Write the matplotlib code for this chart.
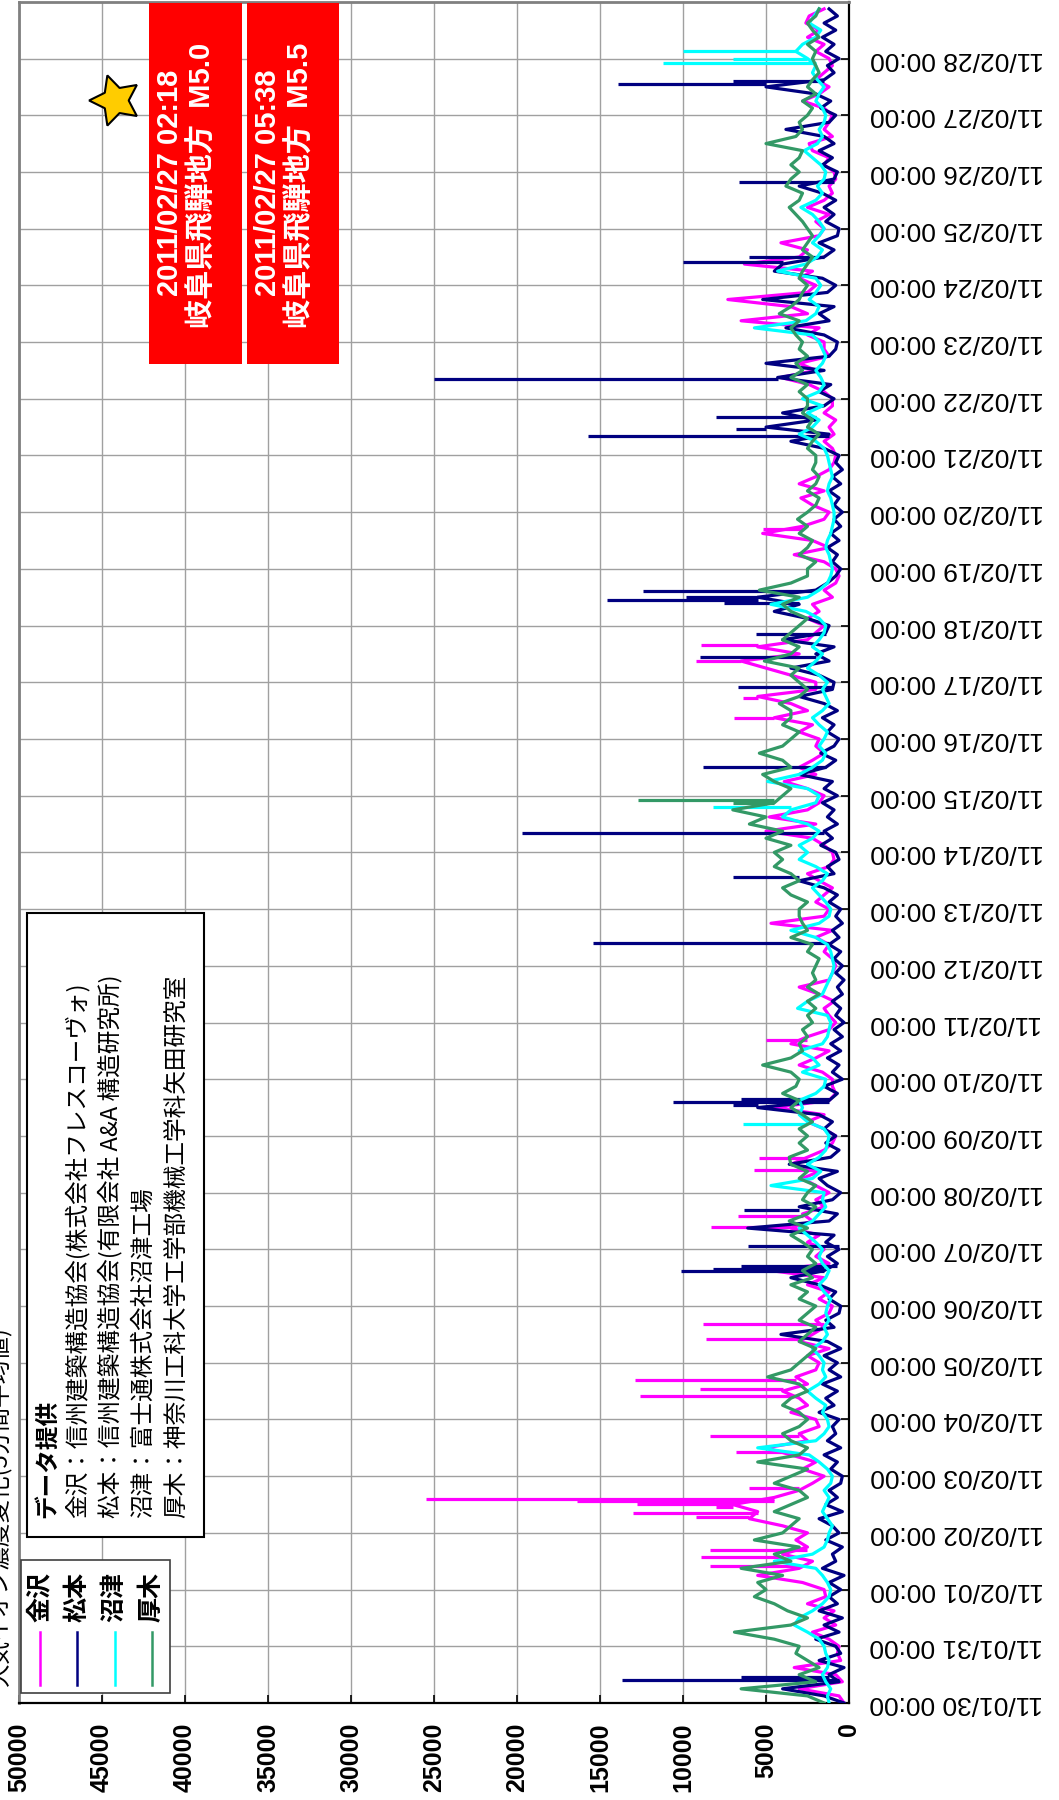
import pandas as pd
import matplotlib
matplotlib.use('Agg')
import matplotlib.pyplot as plt
import matplotlib.dates as mdates
from matplotlib.patches import Rectangle
from matplotlib.lines import Line2D
from matplotlib.ticker import MultipleLocator

plt.rcParams['font.family'] = ['Noto Sans CJK JP', 'DejaVu Sans']

W, H, DPI = 1059, 1800, 100

# 5-minute averages, one reading every 3 hours,
# one row per day from 11/01/30 to 11/02/28 (00,03,06,09,12,15,18,21h)
kanazawa = [
    300, 600, 3000, 400, 800, 3300, 500, 700,
    600, 1200, 2200, 800, 1500, 900, 2500, 1400,
    1500, 2800, 5500, 3000, 2200, 4000, 2500, 3200,
    2500, 4000, 6000, 5500, 7000, 4500, 3000, 2200,
    1500, 2800, 2000, 3500, 5000, 2500, 3000, 1800,
    2000, 3500, 2500, 3000, 4000, 2500, 3200, 2000,
    1800, 2500, 1200, 3000, 2200, 1500, 2000, 1200,
    1000, 1800, 1200, 2500, 1500, 4700, 1200, 2000,
    1500, 2500, 1800, 3500, 2200, 2800, 1500, 2000,
    1200, 2000, 2800, 1800, 3500, 2500, 1500, 1000,
    800, 1500, 2500, 1500, 4500, 1200, 800, 1000,
    1000, 1600, 3000, 2000, 1200, 3500, 2500, 1200,
    800, 1200, 1500, 900, 1800, 3000, 1200, 1000,
    800, 1000, 1500, 1200, 2000, 1000, 4700, 1500,
    1200, 2000, 1500, 1000, 1800, 2500, 1200, 900,
    1000, 1500, 2200, 5000, 2000, 4800, 2500, 1800,
    1500, 2500, 3900, 2000, 3000, 2200, 1500, 2000,
    1800, 3000, 2200, 4500, 2500, 3500, 5500, 2000,
    2000, 3500, 5000, 6500, 3000, 5500, 2500, 2000,
    1500, 2500, 1800, 2200, 1000, 1500, 800, 600,
    800, 1500, 3300, 1200, 2200, 5200, 2800, 1500,
    1200, 2200, 2900, 1500, 3000, 2000, 1200, 900,
    800, 1000, 1500, 900, 1200, 800, 1500, 1000,
    1000, 1500, 2400, 4100, 2000, 3000, 1200, 1500,
    1500, 2500, 1800, 6500, 2500, 3500, 7300, 2500,
    2000, 3000, 2200, 6300, 3000, 2500, 4100, 1800,
    1500, 2000, 1200, 2500, 1500, 1000, 1200, 800,
    900, 1500, 1200, 2200, 2400, 1000, 1500, 1200,
    1000, 1500, 2800, 1800, 1200, 2000, 1500, 1000,
    1200, 2000, 1500, 2500, 1800, 2600, 2400, 1500,
]
matsumoto = [
    300, 1500, 4000, 600, 1200, 300, 1800, 500,
    800, 2000, 600, 1500, 400, 1800, 700, 1200,
    500, 1200, 300, 1600, 800, 1000, 400, 1400,
    600, 1000, 1800, 400, 1400, 700, 1200, 500,
    400, 1100, 700, 1500, 500, 1300, 800, 1000,
    600, 1800, 900, 1400, 700, 1600, 500, 1200,
    700, 1500, 500, 1300, 4100, 900, 1400, 600,
    500, 1200, 800, 1800, 3500, 1500, 700, 1300,
    600, 1400, 900, 6100, 1200, 700, 3000, 1000,
    500, 1300, 1800, 700, 3600, 1100, 600, 1400,
    800, 1500, 1000, 1800, 5500, 1200, 700, 1500,
    400, 1000, 600, 1300, 500, 1100, 400, 900,
    300, 800, 500, 1000, 400, 700, 300, 800,
    400, 900, 500, 1200, 600, 1000, 400, 800,
    500, 1200, 700, 1500, 3000, 900, 1300, 600,
    800, 1700, 1000, 1500, 700, 1300, 900, 1600,
    700, 1500, 1000, 3000, 1400, 800, 1700, 900,
    600, 1300, 900, 1600, 700, 1500, 3000, 1000,
    900, 1800, 3500, 1200, 2000, 900, 4000, 1400,
    1200, 2500, 4500, 3000, 5500, 2000, 1300, 800,
    500, 1000, 700, 1300, 600, 1100, 500, 900,
    400, 900, 600, 1200, 500, 1000, 400, 800,
    600, 1500, 3500, 1200, 5000, 2000, 4000, 1500,
    900, 1800, 1100, 4300, 1500, 5000, 1200, 800,
    700, 1500, 3800, 1200, 1800, 900, 5200, 1300,
    800, 1600, 4500, 4000, 1500, 900, 1800, 700,
    600, 1400, 900, 1500, 800, 1600, 3000, 900,
    700, 1600, 1000, 1800, 900, 1500, 3800, 1200,
    800, 1700, 1100, 2000, 5000, 1500, 900, 1300,
    600, 1400, 900, 1600, 800, 1500, 700, 1200,
]
numazu = [
    1200, 1300, 1100, 1400, 1600, 1300, 1200, 1400,
    1500, 1800, 2500, 3300, 3000, 2200, 1600, 1200,
    1100, 1300, 1600, 2000, 4500, 2200, 1500, 1300,
    1200, 1000, 1300, 1600, 1400, 1200, 1500, 1100,
    1000, 1300, 1800, 2400, 5500, 2000, 1500, 1200,
    1300, 1600, 1400, 2000, 2500, 1800, 1400, 1600,
    1500, 1800, 2200, 1600, 1300, 1500, 1200, 1400,
    1300, 1100, 1500, 1800, 1400, 1200, 1600, 1800,
    1600, 2000, 2500, 3000, 2200, 1800, 1400, 1600,
    1500, 4700, 2200, 1700, 2500, 1800, 1400, 1300,
    1200, 1500, 2500, 3000, 2800, 3000, 2000, 1500,
    1400, 2800, 1800, 2200, 3000, 1600, 1300, 1200,
    1100, 1300, 3100, 2500, 1600, 1400, 1200, 1000,
    900, 1000, 1100, 1300, 2000, 3500, 1800, 1200,
    1100, 1400, 1800, 2200, 1600, 1300, 2000, 3000,
    2500, 3000, 2200, 1800, 2500, 4000, 3500, 2000,
    1800, 2500, 4900, 3000, 2200, 1600, 1400, 1800,
    1500, 1300, 1800, 2200, 1600, 1200, 1400, 1600,
    1300, 1800, 2500, 2000, 1600, 2200, 1800, 1500,
    1400, 1800, 2600, 4700, 2500, 1800, 1300, 1100,
    1000, 1100, 1200, 1400, 1300, 1100, 1000, 900,
    900, 1000, 1100, 1300, 1200, 1000, 1100, 1200,
    1300, 1500, 2000, 3000, 2200, 1800, 2500, 1600,
    2800, 1800, 1500, 1700, 2000, 1600, 1400, 1600,
    1800, 2200, 5700, 2600, 2000, 1800, 2400, 2000,
    1700, 2000, 4300, 2600, 1900, 1600, 2200, 1800,
    1500, 1800, 2200, 2900, 2000, 1600, 1900, 1500,
    1400, 1700, 2200, 2700, 1900, 1600, 1800, 1500,
    1400, 1600, 2000, 1800, 1500, 1900, 2200, 2000,
    2500, 3200, 2800, 2000, 1700, 2400, 2100, 1800,
]
atsugi = [
    1500, 2500, 6500, 2000, 3000, 1800, 2500, 3200,
    3000, 4500, 6900, 3500, 2500, 3700, 4500, 5700,
    5000, 5500, 4000, 6500, 3500, 4500, 3000, 5700,
    4000, 3500, 3000, 4500, 3500, 2500, 3000, 4500,
    3500, 2500, 5500, 3000, 2500, 3500, 4000, 3000,
    2500, 3000, 4000, 3500, 2500, 3000, 4900, 3500,
    3000, 2500, 2000, 3000, 2500, 2000, 3000, 2500,
    2000, 3000, 2500, 3500, 2200, 2800, 2000, 2500,
    2200, 2800, 3500, 2500, 3600, 2500, 2000, 2800,
    2500, 2000, 3000, 2500, 3500, 3600, 2500, 3000,
    2500, 3000, 2200, 2800, 3500, 3000, 4000, 3200,
    3000, 3500, 5200, 3500, 2800, 3000, 2500, 2800,
    2200, 2500, 2000, 2500, 1800, 2500, 2000, 2200,
    2000, 1800, 2500, 2200, 3500, 2500, 2800, 3000,
    3000, 2500, 3500, 4000, 3000, 3500, 4500, 4000,
    4500, 3500, 5000, 4000, 6000, 5000, 7000, 4500,
    4000, 3500, 4500, 5200, 3500, 4000, 5400, 4000,
    3500, 3000, 4000, 3500, 3500, 4200, 3000, 2500,
    3000, 3500, 3000, 5100, 3500, 3000, 4000, 3500,
    3000, 2500, 3500, 4000, 3000, 5400, 3500, 2500,
    2500, 2000, 3000, 2500, 2200, 3000, 2500, 3100,
    2500, 2000, 1800, 2500, 2000, 1800, 2200, 2000,
    2000, 2500, 2200, 1800, 2500, 2200, 2800, 2500,
    2500, 3000, 2500, 3500, 2800, 3200, 2500, 3000,
    2800, 3200, 3500, 3000, 4200, 3500, 3000, 2800,
    2500, 3000, 2800, 2500, 2200, 2800, 2500, 2200,
    2500, 2800, 3200, 3600, 3000, 2800, 3800, 3500,
    3000, 3500, 3000, 2800, 5000, 3200, 2800, 3000,
    2500, 2200, 2800, 2000, 2500, 2200, 1800, 2000,
    2200, 2000, 2500, 1800, 2200, 2500, 2000, 1800,
]

# short single-reading peaks
kanazawa_spike_t = ['2011-02-01 09:50', '2011-02-01 13:40', '2011-02-01 16:50',
                    '2011-02-02 06:40', '2011-02-02 08:25', '2011-02-02 10:50',
                    '2011-02-02 12:15', '2011-02-02 13:40', '2011-02-02 14:25',
                    '2011-02-02 19:10', '2011-02-03 10:05', '2011-02-03 17:00',
                    '2011-02-04 10:05', '2011-02-04 13:00', '2011-02-04 16:30',
                    '2011-02-05 10:05', '2011-02-05 16:20', '2011-02-07 09:35',
                    '2011-02-07 14:10', '2011-02-08 09:35', '2011-02-08 14:50',
                    '2011-02-10 16:30', '2011-02-16 08:50', '2011-02-16 17:15',
                    '2011-02-17 09:10', '2011-02-17 15:50', '2011-02-19 16:50',
                    '2011-02-23 08:50', '2011-02-23 16:50']
kanazawa_spike_v = [8400, 8900, 8400, 9200, 13000, 8000, 12800, 16400, 25500,
                    6000, 6800, 8400, 12600, 9000, 12900, 8600, 8800, 8300,
                    6700, 5700, 5400, 5000, 6900, 6400, 9200, 8900, 5200,
                    6500, 7300]
matsumoto_spike_t = ['2011-01-30 09:50', '2011-01-30 10:50', '2011-02-06 14:50',
                     '2011-02-06 15:35', '2011-02-06 16:50', '2011-02-07 01:30',
                     '2011-02-07 16:30', '2011-02-09 13:10', '2011-02-09 14:25',
                     '2011-02-09 15:35', '2011-02-12 09:50', '2011-02-13 13:25',
                     '2011-02-14 08:10', '2011-02-15 12:00', '2011-02-16 21:50',
                     '2011-02-17 10:35', '2011-02-17 20:25', '2011-02-18 09:35',
                     '2011-02-18 10:50', '2011-02-18 12:00', '2011-02-18 14:50',
                     '2011-02-21 08:10', '2011-02-21 11:15', '2011-02-21 16:20',
                     '2011-02-22 08:10', '2011-02-24 09:50', '2011-02-24 12:00',
                     '2011-02-25 19:40', '2011-02-27 13:25', '2011-02-27 14:25']
matsumoto_spike_v = [13700, 6500, 10100, 8200, 6500, 6100, 6300, 7000, 10600,
                     6500, 15400, 7000, 19700, 8800, 6700, 9000, 5600, 7500,
                     14600, 9800, 12400, 15700, 6800, 8000, 25000, 10000, 6000,
                     6600, 13900, 7000]
numazu_spike_t = ['2011-02-09 05:15', '2011-02-14 19:10', '2011-02-27 22:05',
                  '2011-02-28 00:00', '2011-02-28 03:10']
numazu_spike_v = [6400, 8200, 11200, 7000, 10000]
atsugi_spike_t = ['2011-02-14 21:00', '2011-02-14 22:20']
atsugi_spike_v = [7000, 12700]

names = ['金沢', '松本', '沼津', '厚木']
colors = ['#FF00FF', '#000080', '#00FFFF', '#339966']
providers = ['金沢：信州建築構造協会(株式会社フレスコーヴォ)',
             '松本：信州建築構造協会(有限会社 A&A 構造研究所)',
             '沼津：富士通株式会社沼津工場',
             '厚木：神奈川工科大学工学部機械工学科矢田研究室']
quakes = [('2011/02/27 02:18', '岐阜県飛騨地方  M5.0'),
          ('2011/02/27 05:38', '岐阜県飛騨地方  M5.5')]

t0 = pd.Timestamp('2011-01-30 00:00')
step = pd.Timedelta(hours=3)
times = pd.date_range(t0, periods=len(kanazawa), freq='3h')


def fx(px):
    return px / W


def fy(py):
    return 1 - py / H


def foot_of(base, t):
    i = int(round((t - t0) / step))
    return base[min(i, len(base) - 1)]


fig = plt.figure(figsize=(W / DPI, H / DPI), dpi=DPI)
ax = fig.add_axes([fx(19), fy(1703), 830 / W, 1701 / H])

series = [(kanazawa, kanazawa_spike_t, kanazawa_spike_v),
          (matsumoto, matsumoto_spike_t, matsumoto_spike_v),
          (numazu, numazu_spike_t, numazu_spike_v),
          (atsugi, atsugi_spike_t, atsugi_spike_v)]
for k, (base, st, sv) in enumerate(series):
    ax.plot(base, times, color=colors[k], lw=2.3, zorder=3 + k)
    st = pd.to_datetime(st)
    feet = [foot_of(base, t) for t in st]
    ax.hlines(st, feet, sv, color=colors[k], lw=2.3, zorder=3 + k)

ax.set_xlim(50000, 0)
ax.set_ylim(t0, pd.Timestamp('2011-02-28 23:55'))
ax.xaxis.set_major_locator(MultipleLocator(5000))
ax.yaxis.tick_right()
ax.yaxis.set_major_locator(mdates.DayLocator())
ax.yaxis.set_major_formatter(mdates.DateFormatter('%y/%m/%d %H:%M'))
ax.grid(True, color='#A0A0A0', lw=1.0, zorder=0)
ax.set_axisbelow(True)

ax.tick_params(axis='x', direction='in', length=6, width=1.2, pad=14,
               labelsize=18, labelrotation=90)
ax.tick_params(axis='y', direction='in', length=6, width=1.2, pad=15,
               labelsize=19, labelrotation=180)
for lab in ax.get_xticklabels():
    lab.set_family('Liberation Sans')
    lab.set_fontweight('bold')
for lab in ax.get_yticklabels():
    lab.set_family('Liberation Sans')
    lab.set_va('center')

for side in ['left', 'top']:
    ax.spines[side].set_color('#808080')
    ax.spines[side].set_linewidth(2)
for side in ['bottom', 'right']:
    ax.spines[side].set_color('black')
    ax.spines[side].set_linewidth(1.6)

# earthquake marker and red notes
ax.plot([44200], [pd.Timestamp('2011-02-27 06:15')], marker=(5, 1, 90),
        ms=38, mfc='#FFCC00', mec='black', mew=1.5, zorder=10)
box_x = [(149, 242), (247, 339)]
for (x0, x1), (l1, l2) in zip(box_x, quakes):
    fig.add_artist(Rectangle((fx(x0), fy(364)), (x1 - x0) / W, 361 / H,
                             transform=fig.transFigure, fc='#FF0000', ec='none',
                             zorder=10))
    fig.text(fx(x0 + 21), fy(183), l1, rotation=90, ha='center', va='center',
             color='white', fontsize=21, fontweight='bold',
             family=['Liberation Sans', 'Noto Sans CJK JP'], zorder=11)
    fig.text(fx(x0 + 54), fy(185), l2, rotation=90, ha='center', va='center',
             color='white', fontsize=21, fontweight='bold',
             family=['Liberation Sans', 'Noto Sans CJK JP'], zorder=11)

# series legend
fig.add_artist(Rectangle((fx(21), fy(1693)), 149 / W, 133 / H,
                         transform=fig.transFigure, fc='white', ec='#404040',
                         lw=1.2, zorder=10))
for k, (name, c) in enumerate(zip(names, colors)):
    xc = 40 + 37.3 * k
    fig.add_artist(Line2D([fx(xc), fx(xc)], [fy(1685), fy(1632)],
                          transform=fig.transFigure, color=c, lw=1.8, zorder=11))
    fig.text(fx(xc), fy(1597), name, rotation=90, ha='center', va='center',
             fontsize=18, fontweight='bold', zorder=11)

# data provider box
fig.add_artist(Rectangle((fx(27), fy(1537)), 177 / W, 624 / H,
                         transform=fig.transFigure, fc='white', ec='black',
                         lw=1.5, zorder=10))
fig.text(fx(48), fy(1518), 'データ提供', rotation=90, ha='center', va='bottom',
         fontsize=17, fontweight='bold', zorder=11)
for k, line in enumerate(providers):
    fig.text(fx(77 + 33 * k), fy(1518), line, rotation=90, ha='center',
             va='bottom', fontsize=17, zorder=11)

# title, cut by the left edge of the picture as in the original
fig.text(fx(-1), fy(1686), '大気イオン濃度変化(5分間平均値)', rotation=90,
         ha='center', va='bottom', fontsize=17)

fig.savefig('out.png', dpi=DPI)
